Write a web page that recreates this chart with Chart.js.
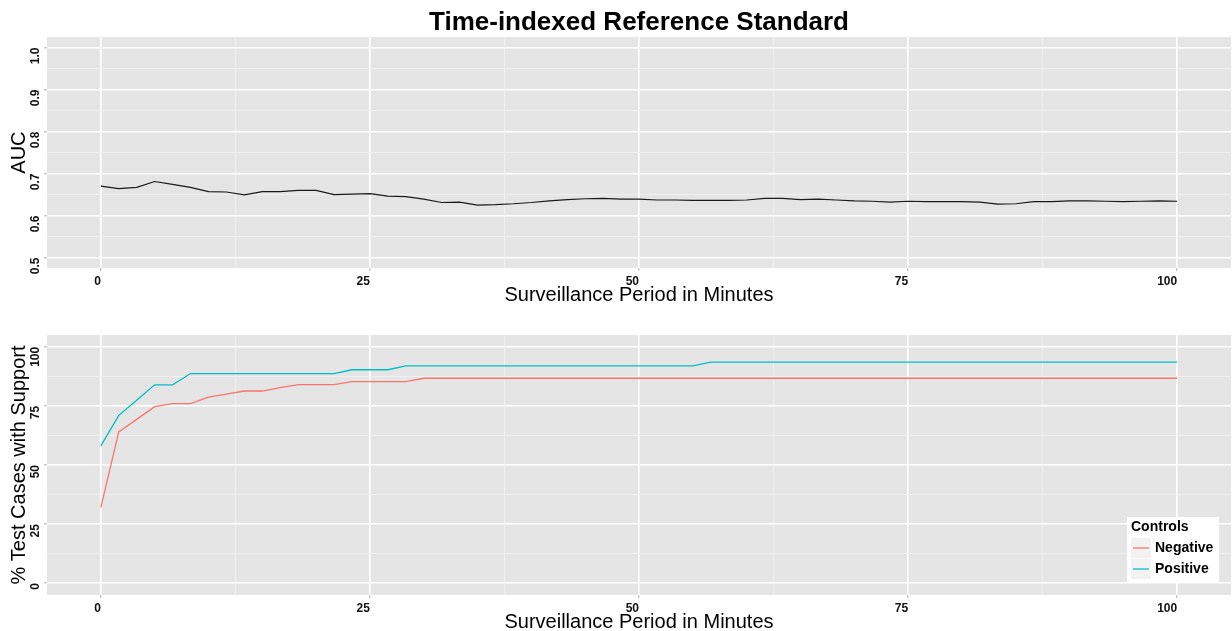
<!DOCTYPE html>
<html><head><meta charset="utf-8">
<script src="https://cdn.jsdelivr.net/npm/chart.js@4.4.1/dist/chart.umd.min.js"></script>
<style>
html,body{margin:0;padding:0;background:#fff;overflow:hidden;width:1232px;height:631px}
.wrap{position:absolute;left:0;width:1232px}
</style></head><body>
<div class="wrap" style="top:0;height:315px"><canvas id="c1" width="1232" height="315"></canvas></div>
<div class="wrap" style="top:315px;height:316px"><canvas id="c2" width="1232" height="316"></canvas></div>
<script>
// ---- data ----
const minutes = [0,1.667,3.333,5,6.667,8.333,10,11.667,13.333,15,16.667,18.333,20,21.667,23.333,25,26.667,28.333,30,31.667,33.333,35,36.667,38.333,40,41.667,43.333,45,46.667,48.333,50,51.667,53.333,55,56.667,58.333,60,61.667,63.333,65,66.667,68.333,70,71.667,73.333,75,76.667,78.333,80,81.667,83.333,85,86.667,88.333,90,91.667,93.333,95,96.667,98.333,100];
const aucValues = [0.670,0.664,0.667,0.681,0.674,0.667,0.657,0.656,0.649,0.657,
  0.657,0.660,0.660,0.650,0.651,0.652,0.646,0.645,0.639,0.631,
  0.632,0.625,0.626,0.628,0.631,0.635,0.638,0.640,0.641,0.639,
  0.639,0.637,0.637,0.636,0.636,0.636,0.637,0.641,0.641,0.638,
  0.639,0.637,0.635,0.634,0.632,0.634,0.633,0.633,0.633,0.632,
  0.627,0.628,0.633,0.633,0.635,0.635,0.634,0.633,0.634,0.635,0.634];
const negativeValues = [32.0,64.0,69.3,74.7,76.0,76.0,78.7,80.0,81.3,81.3,
  82.7,84.0,84.0,84.0,85.3,85.3,85.3,85.3,86.7,86.7,
  86.7,86.7,86.7,86.7,86.7,86.7,86.7,86.7,86.7,86.7,
  86.7,86.7,86.7,86.7,86.7,86.7,86.7,86.7,86.7,86.7,
  86.7,86.7,86.7,86.7,86.7,86.7,86.7,86.7,86.7,86.7,
  86.7,86.7,86.7,86.7,86.7,86.7,86.7,86.7,86.7,86.7,86.7];
const positiveValues = [58.1,71.0,77.4,83.9,83.9,88.7,88.7,88.7,88.7,88.7,
  88.7,88.7,88.7,88.7,90.3,90.3,90.3,91.9,91.9,91.9,
  91.9,91.9,91.9,91.9,91.9,91.9,91.9,91.9,91.9,91.9,
  91.9,91.9,91.9,91.9,93.5,93.5,93.5,93.5,93.5,93.5,
  93.5,93.5,93.5,93.5,93.5,93.5,93.5,93.5,93.5,93.5,
  93.5,93.5,93.5,93.5,93.5,93.5,93.5,93.5,93.5,93.5,93.5];
const seriesNames = ['Negative','Positive'];
const legendTitle = 'Controls';
const xTickValues = [0,25,50,75,100];
const xTickLabels = ['0','25','50','75','100'];
const aucTickValues = [0.5,0.6,0.7,0.8,0.9,1.0];
const aucTickLabels = ['0.5','0.6','0.7','0.8','0.9','1.0'];
const pctTickValues = [0,25,50,75,100];
const pctTickLabels = ['0','25','50','75','100'];

// ---- style ----
const FONT = '"Liberation Sans", Arial, Helvetica, sans-serif';
const PANEL_BG = '#E5E5E5';
const MAJOR = '#FFFFFF';
const MINOR = '#F0F0F0';
const TICK_MARK = '#B0B0B0';
const COLORS = ['#F8766D','#00BFC4'];

function withMinors(vals){
  const out=[];
  for(let i=0;i<vals.length;i++){
    out.push(vals[i]);
    if(i<vals.length-1) out.push((vals[i]+vals[i+1])/2);
  }
  return out;
}
function isMajor(v, majors){ return majors.some(m=>Math.abs(m-v)<1e-9); }
function labelFor(v, majors, labels){
  const i = majors.findIndex(m=>Math.abs(m-v)<1e-9);
  return i>=0 ? labels[i] : '';
}
function gridOpts(majors){
  return {
    color: c => isMajor(c.tick.value, majors) ? MAJOR : MINOR,
    lineWidth: c => isMajor(c.tick.value, majors) ? 1.6 : 1,
    tickLength: 3,
    tickColor: c => isMajor(c.tick.value, majors) ? TICK_MARK : 'rgba(0,0,0,0)',
    tickWidth: 1
  };
}
const tickFont = {family: FONT, size: 12, weight: 'bold'};
const titleFont = {family: FONT, size: 20, weight: 'normal', lineHeight: 1.2};

const bgPlugin = {
  id: 'panelBg',
  beforeDraw(chart){
    const {ctx, chartArea: a} = chart;
    ctx.save();
    ctx.fillStyle = PANEL_BG;
    ctx.fillRect(a.left, a.top, a.right - a.left, a.bottom - a.top);
    ctx.restore();
  }
};

function xScale(h, titlePadBottom){
  return {
    type: 'linear', min: -5, max: 105,
    afterBuildTicks: s => { s.ticks = withMinors(xTickValues).map(v => ({value: v})); },
    afterFit: s => { s.height = h; },
    grid: gridOpts(xTickValues),
    border: {display: false},
    ticks: {align: 'end', padding: 3, color: '#111', font: tickFont, autoSkip: false,
      minRotation: 0, maxRotation: 0,
      callback: v => labelFor(v, xTickValues, xTickLabels)},
    title: {display: true, text: 'Surveillance Period in Minutes', color: '#000', font: titleFont,
      padding: {top: 0, bottom: titlePadBottom}}
  };
}
function yScale(min, max, majors, labels, title){
  return {
    type: 'linear', min: min, max: max,
    afterBuildTicks: s => { s.ticks = withMinors(majors).map(v => ({value: v})); },
    afterFit: s => { s.width = 47; },
    grid: gridOpts(majors),
    border: {display: false},
    ticks: {padding: 8, color: '#111', font: tickFont, autoSkip: false,
      minRotation: 90, maxRotation: 90,
      callback: v => labelFor(v, majors, labels)},
    title: {display: true, text: title, color: '#000', font: titleFont,
      padding: {top: 7, bottom: 0}}
  };
}

// ---- top chart: AUC ----
new Chart(document.getElementById('c1'), {
  type: 'line',
  data: {datasets: [{
    label: 'AUC',
    data: minutes.map((m, i) => ({x: m, y: aucValues[i]})),
    borderColor: '#1a1a1a', borderWidth: 1.2, pointRadius: 0, tension: 0, fill: false
  }]},
  options: {
    responsive: false, animation: false, events: [],
    layout: {padding: {top: 0, right: 1, left: 0, bottom: 0}},
    plugins: {
      legend: {display: false}, tooltip: {enabled: false},
      title: {display: true, text: 'Time-indexed Reference Standard', fullSize: false, color: '#000',
        font: {family: FONT, size: 26, weight: 'bold', lineHeight: 1.1},
        padding: {top: 8.5, bottom: 0}}
    },
    scales: {
      x: xScale(47, 8),
      y: yScale(0.475, 1.025, aucTickValues, aucTickLabels, 'AUC')
    }
  },
  plugins: [bgPlugin]
});

// ---- legend plugin (bottom chart) ----
const legendPlugin = {
  id: 'ggLegend',
  afterDraw(chart){
    const ctx = chart.ctx;
    const bx = 1127, by = 202, bw = 92, bh = 65;
    ctx.save();
    ctx.fillStyle = '#FFFFFF';
    ctx.fillRect(bx, by, bw, bh);
    ctx.fillStyle = '#000';
    ctx.textBaseline = 'middle';
    ctx.textAlign = 'left';
    ctx.font = 'bold 14px ' + FONT;
    ctx.fillText(legendTitle, bx + 4, by + 10.5);
    chart.data.datasets.forEach((ds, i) => {
      const ky = by + 21 + i * 21;
      ctx.fillStyle = '#F2F2F2';
      ctx.fillRect(bx + 4, ky, 20, 20);
      ctx.strokeStyle = ds.borderColor;
      ctx.lineWidth = 1.3;
      ctx.beginPath();
      ctx.moveTo(bx + 6, ky + 10);
      ctx.lineTo(bx + 22, ky + 10);
      ctx.stroke();
      ctx.fillStyle = '#000';
      ctx.fillText(ds.label, bx + 28, ky + 10);
    });
    ctx.restore();
  }
};

// ---- bottom chart: % test cases ----
new Chart(document.getElementById('c2'), {
  type: 'line',
  data: {datasets: [
    {label: seriesNames[0], data: minutes.map((m, i) => ({x: m, y: negativeValues[i]})),
     borderColor: COLORS[0], borderWidth: 1.3, pointRadius: 0, tension: 0, fill: false},
    {label: seriesNames[1], data: minutes.map((m, i) => ({x: m, y: positiveValues[i]})),
     borderColor: COLORS[1], borderWidth: 1.3, pointRadius: 0, tension: 0, fill: false}
  ]},
  options: {
    responsive: false, animation: false, events: [],
    layout: {padding: {top: 20, right: 1, left: 0, bottom: 0}},
    plugins: {legend: {display: false}, tooltip: {enabled: false}, title: {display: false}},
    scales: {
      x: xScale(36, -3),
      y: yScale(-5, 105, pctTickValues, pctTickLabels, '% Test Cases with Support')
    }
  },
  plugins: [bgPlugin, legendPlugin]
});
</script>
</body></html>
